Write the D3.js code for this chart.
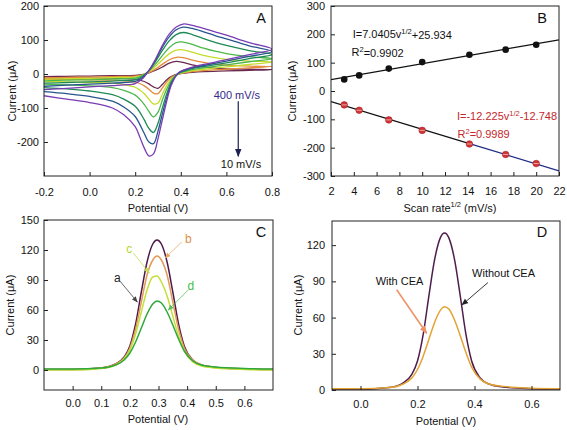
<!DOCTYPE html>
<html><head><meta charset="utf-8">
<script src="https://cdn.jsdelivr.net/npm/d3@7"></script>
<style>
body{margin:0;background:#fff}
svg{display:block}
text{font-family:"Liberation Sans",Arial,Helvetica,sans-serif}
</style>
</head><body>
<svg id="chart" width="567" height="430"></svg>
<script>
// ---------------- DATA ----------------
// Panel A: cyclic voltammograms at different scan rates (mV/s)
const cvScanRates = ["10", "20", "50", "100", "200", "300", "400"];
const cvForwardE = [-0.2, -0.1, 0.0, 0.1, 0.15, 0.2, 0.23, 0.26, 0.29, 0.32, 0.35, 0.38, 0.41, 0.45, 0.5, 0.55, 0.6, 0.7, 0.8];
const cvReverseE = [0.7, 0.6, 0.5, 0.45, 0.42, 0.39, 0.36, 0.34, 0.32, 0.30, 0.28, 0.26, 0.24, 0.22, 0.2, 0.15, 0.1, 0.0, -0.1, -0.2];
const cvFwd10  = [-8, -7, -6, -5, -5, -4, -2, 3, 11, 21, 32, 37, 34, 27, 21, 17, 15, 14, 13];
const cvFwd20  = [-11, -10, -9, -8, -7, -6, -3, 4, 15, 29, 42, 49, 48, 41, 34, 29, 26, 23, 22];
const cvFwd50  = [-15, -14, -13, -11, -10, -9, -4, 7, 23, 42, 60, 70, 71, 64, 55, 48, 43, 38, 35];
const cvFwd100 = [-20, -18, -17, -15, -14, -12, -5, 9, 30, 55, 78, 92, 94, 87, 76, 67, 60, 51, 45];
const cvFwd200 = [-27, -25, -23, -21, -19, -17, -8, 10, 38, 70, 98, 116, 122, 116, 104, 93, 84, 69, 57];
const cvFwd300 = [-36, -33, -30, -27, -25, -22, -11, 10, 42, 80, 110, 130, 138, 134, 124, 113, 103, 83, 66];
const cvFwd400 = [-46, -42, -38, -34, -32, -28, -15, 10, 45, 85, 118, 138, 147, 143, 134, 124, 114, 92, 73];
const cvRev10  = [11, 9, 7, 5, 3, 0, -7, -16, -30, -42, -38, -29, -22, -18, -15, -13, -12, -12, -12, -12];
const cvRev20  = [18, 14, 10, 7, 4, 0, -9, -22, -40, -58, -56, -45, -35, -28, -24, -20, -18, -17, -16, -16];
const cvRev50  = [28, 21, 14, 10, 6, 0, -13, -32, -58, -85, -88, -74, -58, -47, -39, -31, -27, -25, -23, -22];
const cvRev100 = [36, 27, 18, 13, 8, 1, -17, -42, -75, -112, -126, -110, -90, -74, -62, -48, -40, -35, -32, -30];
const cvRev200 = [45, 33, 22, 16, 10, 2, -22, -55, -98, -145, -172, -160, -135, -112, -95, -74, -61, -50, -44, -40];
const cvRev300 = [52, 38, 25, 18, 12, 3, -26, -65, -115, -168, -205, -200, -175, -148, -125, -97, -80, -66, -58, -52];
const cvRev400 = [57, 42, 28, 20, 14, 4, -30, -75, -132, -190, -235, -241, -218, -185, -155, -120, -100, -84, -74, -64];
const cvAxisXTicks = [-0.2, 0.0, 0.2, 0.4, 0.6, 0.8];
const cvAxisYTicks = [-200, -100, 0, 100, 200];

// Panel B: peak current vs square root of scan rate
const sqrtScanRate = [3.16, 4.47, 7.07, 10, 14.14, 17.32, 20];
const anodicPeak = [41, 55, 79, 102, 128, 146, 163];
const cathodicPeak = [-49, -68, -102, -139, -187, -224, -256];
const anodicFit = [7.0405, 25.934];      // slope, intercept
const cathodicFit = [-12.225, -12.748];  // slope, intercept
const fitRange = [2, 22];
const bAxisXTicks = [2, 4, 6, 8, 10, 12, 14, 16, 18, 20, 22];
const bAxisYTicks = [-300, -200, -100, 0, 100, 200, 300];

// Panel C: DPV curves a-d
const dpvE = [-0.1, 0.0, 0.1, 0.15, 0.18, 0.2, 0.22, 0.24, 0.26, 0.28, 0.295, 0.31, 0.33, 0.35, 0.37, 0.39, 0.42, 0.45, 0.5, 0.6, 0.7];
const dpvA = [0.5, 0.5, 2, 6, 13, 24, 46, 78, 108, 126, 130, 126, 108, 78, 46, 24, 10, 5, 2.5, 1, 0.5];
const dpvB = [0.5, 0.5, 2, 6, 12, 22, 41, 68, 95, 110, 114, 110, 95, 68, 41, 22, 10, 5, 2.5, 1, 0.5];
const dpvC = [0, 0, 1.5, 5, 11, 20, 36, 58, 80, 93, 94, 88, 74, 54, 34, 19, 8, 4, 2, 0.5, 0];
const dpvD = [1, 1, 2, 5, 10, 17, 28, 42, 56, 66, 69, 67, 58, 45, 31, 19, 9, 5, 3, 1.5, 1];
const cLabels = ["a", "b", "c", "d"];
const cAxisXTicks = [0.0, 0.1, 0.2, 0.3, 0.4, 0.5, 0.6];
const cAxisYTicks = [0, 30, 60, 90, 120, 150];

// Panel D: with / without CEA
const dpvWithoutCEA = [0.5, 0.5, 2, 6, 13, 24, 46, 78, 108, 126, 130, 126, 108, 78, 46, 24, 10, 5, 2.5, 1, 0.5];
const dpvWithCEA = [1, 1, 2, 5, 10, 17, 28, 42, 56, 66, 69, 67, 58, 45, 31, 19, 9, 5, 3, 1.5, 1];
const dAxisXTicks = [0.0, 0.2, 0.4, 0.6];
const dAxisYTicks = [0, 30, 60, 90, 120];

// ---------------- STYLE ----------------
const cvColors = ["#6a2850", "#e38c3c", "#c6dc2c", "#4cb84a", "#1f8a55", "#27558e", "#7a3cb4"];
const cColors = ["#4d1b4b", "#e39a55", "#c2e03a", "#2fa83a"];
const arrowColors = {a: "#444", b: "#e6a86a", c: "#c4e050", d: "#55c060"};

const svg = d3.select("#chart");
const FONT = 11;

function frame(x, y) {
  const [x0, x1] = x.range(), [y0, y1] = y.range();
  return {x0, x1, y0, y1};
}
function drawAxes(g, x, y, o) {
  const f = frame(x, y);
  const ax = g.append("g").attr("transform", `translate(0,${f.y0})`)
    .call(d3.axisBottom(x).tickValues(o.xt).tickFormat(o.xf).tickSize(-4).tickPadding(o.xp));
  ax.select(".domain").remove();
  const ay = g.append("g").attr("transform", `translate(${f.x0},0)`)
    .call(d3.axisLeft(y).tickValues(o.yt).tickFormat(o.yf).tickSize(-4).tickPadding(o.yp));
  ay.select(".domain").remove();
  [ax, ay].forEach(a => {
    a.attr("font-size", FONT).attr("font-family", null);
    a.selectAll("line").attr("stroke", "#222");
    a.selectAll("text").attr("fill", "#111");
  });
  g.append("rect").attr("x", f.x0).attr("y", f.y1).attr("width", f.x1 - f.x0).attr("height", f.y0 - f.y1)
    .attr("fill", "none").attr("stroke", "#222").attr("stroke-width", 1);
}
function clip(id, x, y) {
  const f = frame(x, y);
  svg.append("clipPath").attr("id", id).append("rect")
    .attr("x", f.x0).attr("y", f.y1).attr("width", f.x1 - f.x0).attr("height", f.y0 - f.y1);
  return `url(#${id})`;
}
const defs = svg.append("defs");
function marker(id, color, size) {
  defs.append("marker").attr("id", id).attr("viewBox", "0 0 10 10").attr("refX", 9).attr("refY", 5)
    .attr("markerWidth", size).attr("markerHeight", size).attr("orient", "auto-start-reverse")
    .attr("markerUnits", "userSpaceOnUse")
    .append("path").attr("d", "M0,1 L10,5 L0,9 z").attr("fill", color);
  return `url(#${id})`;
}
function arrow(g, x, y, p0, p1, color, w, m) {
  g.append("line").attr("x1", x(p0[0])).attr("y1", y(p0[1])).attr("x2", x(p1[0])).attr("y2", y(p1[1]))
    .attr("stroke", color).attr("stroke-width", w).attr("marker-end", m);
}
function yTitle(g, cx, cy, txt) {
  g.append("text").attr("transform", `translate(${cx},${cy}) rotate(-90)`).attr("text-anchor", "middle")
    .attr("dy", "0.35em").attr("font-size", FONT).attr("fill", "#111").text(txt);
}
function xTitle(g, cx, cy, txt) {
  return g.append("text").attr("x", cx).attr("y", cy).attr("text-anchor", "middle")
    .attr("dy", "0.35em").attr("font-size", FONT).attr("fill", "#111").text(txt);
}
function panelLetter(g, cx, by, txt) {
  g.append("text").attr("x", cx).attr("y", by).attr("text-anchor", "middle")
    .attr("font-size", 14.5).attr("fill", "#111").text(txt);
}
const hyph = f => d => f(d).replace("\u2212", "-");
const fmt1 = hyph(d3.format(".1f"));
const fmtD = hyph(d3.format("d"));

// ---------------- PANEL A ----------------
{
  const g = svg.append("g");
  const x = d3.scaleLinear().domain([-0.2, 0.8]).range([44, 272]);
  const y = d3.scaleLinear().domain([-300, 200]).range([176, 6]);
  const fwd = [cvFwd10, cvFwd20, cvFwd50, cvFwd100, cvFwd200, cvFwd300, cvFwd400];
  const rev = [cvRev10, cvRev20, cvRev50, cvRev100, cvRev200, cvRev300, cvRev400];
  const series = cvScanRates.map((r, i) => ({
    rate: r,
    pts: cvForwardE.map((e, j) => [e, fwd[i][j]]).concat(cvReverseE.map((e, j) => [e, rev[i][j]]))
  }));
  const line = d3.line().x(d => x(d[0])).y(d => y(d[1])).curve(d3.curveCatmullRom.alpha(0.5));
  const cp = clip("clipA", x, y);
  g.append("g").attr("clip-path", cp).selectAll("path").data(series).join("path")
    .attr("d", d => line(d.pts)).attr("fill", "none")
    .attr("stroke", (d, i) => cvColors[i]).attr("stroke-width", 1.3);
  drawAxes(g, x, y, {xt: cvAxisXTicks, xf: fmt1, xp: 12, yt: cvAxisYTicks, yf: fmtD, yp: 5});
  yTitle(g, 12, 91, "Current (μA)");
  xTitle(g, 158, 208, "Potential (V)");
  panelLetter(g, 261, 23, "A");
  g.append("text").attr("x", x(0.646)).attr("y", y(-62)).attr("dy", "0.35em").attr("text-anchor", "middle")
    .attr("font-size", FONT).attr("fill", "#34288e").text(cvScanRates[6] + " mV/s");
  arrow(g, x, y, [0.652, -80], [0.652, -242], "#1d2050", 1.2, marker("mA", "#1d2050", 8));
  g.append("text").attr("x", x(0.664)).attr("y", y(-266)).attr("dy", "0.35em").attr("text-anchor", "middle")
    .attr("font-size", FONT).attr("fill", "#111").text(cvScanRates[0] + " mV/s");
}

// ---------------- PANEL B ----------------
{
  const g = svg.append("g");
  const x = d3.scaleLinear().domain([2, 22]).range([331, 559]);
  const y = d3.scaleLinear().domain([-300, 300]).range([176, 6]);
  const cp = clip("clipB", x, y);
  const lg = g.append("g").attr("clip-path", cp);
  const fitLine = (f, a, b) => lg.append("line")
    .attr("x1", x(a)).attr("y1", y(f[0] * a + f[1])).attr("x2", x(b)).attr("y2", y(f[0] * b + f[1]));
  fitLine(anodicFit, fitRange[0], fitRange[1]).attr("stroke", "#111").attr("stroke-width", 1.2);
  fitLine(cathodicFit, fitRange[0], 14).attr("stroke", "#111").attr("stroke-width", 1.2);
  fitLine(cathodicFit, 14, fitRange[1]).attr("stroke", "#1c2a86").attr("stroke-width", 1.2);
  lg.selectAll(".pa").data(sqrtScanRate).join("circle").attr("class", "pa")
    .attr("cx", d => x(d)).attr("cy", (d, i) => y(anodicPeak[i])).attr("r", 3.3).attr("fill", "#111");
  lg.selectAll(".pc").data(sqrtScanRate).join("circle").attr("class", "pc")
    .attr("cx", d => x(d)).attr("cy", (d, i) => y(cathodicPeak[i])).attr("r", 3.3)
    .attr("fill", "#cf3436").attr("stroke", "#a82226").attr("stroke-width", 0.6);
  lg.selectAll(".pcl").data(sqrtScanRate).join("line").attr("class", "pcl")
    .attr("x1", d => x(d) - 2.6).attr("x2", d => x(d) + 2.6)
    .attr("y1", (d, i) => y(cathodicPeak[i])).attr("y2", (d, i) => y(cathodicPeak[i]))
    .attr("stroke", "#f2b0b0").attr("stroke-width", 0.9);
  drawAxes(g, x, y, {xt: bAxisXTicks, xf: fmtD, xp: 11, yt: bAxisYTicks, yf: fmtD, yp: 6});
  yTitle(g, 292, 91, "Current (μA)");
  const t = xTitle(g, 450, 208, "Scan rate");
  t.append("tspan").attr("font-size", 7.5).attr("dy", "-0.6em").text("1/2");
  t.append("tspan").attr("dy", "0.45em").text(" (mV/s)");
  panelLetter(g, 542, 23, "B");
  function eq(xv, yv, f, color) {
    const tx = g.append("text").attr("x", x(xv)).attr("y", y(yv)).attr("font-size", FONT).attr("fill", color);
    tx.append("tspan").text("I=" + f[0] + "v");
    tx.append("tspan").attr("font-size", 7.5).attr("dy", "-0.55em").text("1/2");
    tx.append("tspan").attr("dy", "0.4em").text((f[1] >= 0 ? "+" : "") + f[1]);
  }
  function r2(xv, yv, v, color) {
    const tx = g.append("text").attr("x", x(xv)).attr("y", y(yv)).attr("font-size", FONT).attr("fill", color);
    tx.append("tspan").text("R");
    tx.append("tspan").attr("font-size", 7.5).attr("dy", "-0.55em").text("2");
    tx.append("tspan").attr("dy", "0.4em").text("=" + v);
  }
  eq(3.9, 186, anodicFit, "#111");
  r2(3.8, 122, "0.9902", "#111");
  eq(13.05, -103, cathodicFit, "#c3282e");
  r2(13.1, -165, "0.9989", "#c3282e");
}

// ---------------- PANEL C ----------------
{
  const g = svg.append("g");
  const x = d3.scaleLinear().domain([-0.1, 0.7]).range([44, 273]);
  const y = d3.scaleLinear().domain([-20, 150]).range([390, 220]);
  const cp = clip("clipC", x, y);
  const line = d3.line().x(d => x(d[0])).y(d => y(d[1])).curve(d3.curveMonotoneX);
  const curves = [dpvA, dpvB, dpvC, dpvD];
  const order = [0, 1, 2, 3];
  g.append("g").attr("clip-path", cp).selectAll("path").data(order).join("path")
    .attr("d", i => line(dpvE.map((e, j) => [e, curves[i][j]])))
    .attr("fill", "none").attr("stroke", i => cColors[i]).attr("stroke-width", 1.5);
  drawAxes(g, x, y, {xt: cAxisXTicks, xf: fmt1, xp: 9, yt: cAxisYTicks, yf: fmtD, yp: 5});
  yTitle(g, 10, 305, "Current (μA)");
  xTitle(g, 158, 419, "Potential (V)");
  panelLetter(g, 261, 237, "C");
  const labels = [
    {k: "a", t: [0.156, 92], p0: [0.168, 88], p1: [0.226, 68], col: "#222"},
    {k: "b", t: [0.404, 131], p0: [0.381, 128], p1: [0.323, 112], col: "#e08f48"},
    {k: "c", t: [0.198, 121], p0: [0.212, 117], p1: [0.268, 97], col: "#b5d62c"},
    {k: "d", t: [0.413, 84], p0: [0.404, 80], p1: [0.334, 60], col: "#3cbf45"}
  ];
  labels.forEach(l => {
    g.append("text").attr("x", x(l.t[0])).attr("y", y(l.t[1])).attr("dy", "0.35em").attr("text-anchor", "middle")
      .attr("font-size", 12).attr("fill", l.col).text(l.k);
    arrow(g, x, y, l.p0, l.p1, arrowColors[l.k], 0.8, marker("mC" + l.k, arrowColors[l.k], 6));
  });
}

// ---------------- PANEL D ----------------
{
  const g = svg.append("g");
  const x = d3.scaleLinear().domain([-0.1, 0.7]).range([332, 560]);
  const y = d3.scaleLinear().domain([0, 140]).range([390, 221]);
  const cp = clip("clipD", x, y);
  const line = d3.line().x(d => x(d[0])).y(d => y(d[1])).curve(d3.curveMonotoneX);
  const lg = g.append("g").attr("clip-path", cp);
  lg.append("path").attr("d", line(dpvE.map((e, j) => [e, dpvWithoutCEA[j]])))
    .attr("fill", "none").attr("stroke", "#4f1d4c").attr("stroke-width", 1.5);
  lg.append("path").attr("d", line(dpvE.map((e, j) => [e, dpvWithCEA[j]])))
    .attr("fill", "none").attr("stroke", "#e3a334").attr("stroke-width", 1.5);
  drawAxes(g, x, y, {xt: dAxisXTicks, xf: fmt1, xp: 10, yt: dAxisYTicks, yf: fmtD, yp: 7});
  yTitle(g, 298, 305, "Current (μA)");
  xTitle(g, 446, 421, "Potential (V)");
  panelLetter(g, 542, 237, "D");
  g.append("text").attr("x", x(0.137)).attr("y", y(90.5)).attr("dy", "0.35em").attr("text-anchor", "middle")
    .attr("font-size", FONT).attr("fill", "#111").text("With CEA");
  arrow(g, x, y, [0.127, 83], [0.232, 47], "#ec9468", 1.6, marker("mD1", "#ec9468", 8));
  g.append("text").attr("x", x(0.502)).attr("y", y(97)).attr("dy", "0.35em").attr("text-anchor", "middle")
    .attr("font-size", FONT).attr("fill", "#111").text("Without CEA");
  arrow(g, x, y, [0.447, 89], [0.356, 70.5], "#222", 0.9, marker("mD2", "#222", 7));
}
</script>
</body></html>
